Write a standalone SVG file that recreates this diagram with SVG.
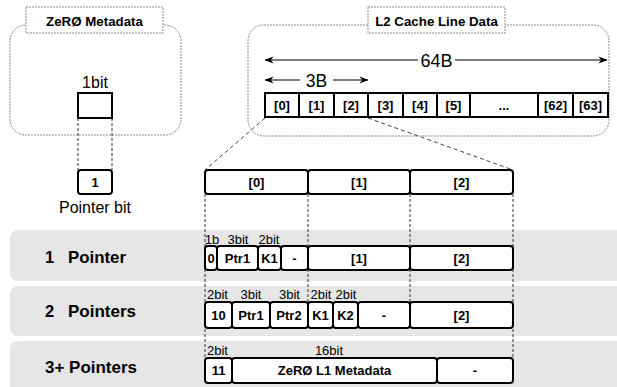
<svg xmlns="http://www.w3.org/2000/svg" width="617" height="387" viewBox="0 0 617 387">
<defs>
<marker id="arr" viewBox="0 0 10 10" refX="9.5" refY="5" markerWidth="9" markerHeight="9" markerUnits="userSpaceOnUse" orient="auto-start-reverse"><path d="M0,1 L10,5 L0,9 L3,5 z" fill="#000"/></marker>
</defs>
<style>
text{font-family:"Liberation Sans",Arial,sans-serif;text-anchor:middle;fill:#000}
.b{font-weight:bold;font-size:13px}
.ttl{font-weight:bold;font-size:13.3px}
.row{font-weight:bold;font-size:16.5px;text-anchor:start}
.sm{font-size:13px}
.box{fill:#fff;stroke:#000;stroke-width:2}
.cell{fill:#fff;stroke:#000;stroke-width:2}
.cont{fill:#fff;stroke:#8c8c8c;stroke-width:1;stroke-dasharray:2 1}
.band{fill:#e6e6e6}
.guide{stroke:#333;stroke-width:1;stroke-dasharray:3 2;fill:none}
.diag{stroke:#444;stroke-width:1;stroke-dasharray:4 3;fill:none}
.ar{stroke:#000;stroke-width:1.2;fill:none}
</style>

<g id="bands">
<rect class="band" x="10" y="230" width="620" height="51" rx="8"/>
<rect class="band" x="10" y="286" width="620" height="50" rx="8"/>
<rect class="band" x="10" y="341" width="620" height="60" rx="8"/>
</g>

<g id="zero-metadata">
<rect class="cont" x="10" y="25" width="171" height="110" rx="16"/>
<rect class="cont" x="26" y="7" width="137" height="26"/>
<text class="ttl" x="94.5" y="25.5">ZeRØ Metadata</text>
</g>

<g id="l2-cache">
<rect class="cont" x="248" y="25" width="361" height="111" rx="16"/>
<rect class="cont" x="368" y="7" width="137" height="26"/>
<text class="ttl" x="436.5" y="25.5">L2 Cache Line Data</text>
</g>

<g id="connectors">
<line class="guide" x1="78" y1="118" x2="78" y2="170"/>
<line class="guide" x1="112" y1="118" x2="112" y2="170"/>
<line class="diag" x1="265" y1="118" x2="205" y2="170"/>
<line class="diag" x1="368" y1="118" x2="513" y2="170"/>
<line class="guide" x1="205" y1="194" x2="205" y2="358"/>
<line class="guide" x1="308" y1="194" x2="308" y2="302"/>
<line class="guide" x1="410" y1="194" x2="410" y2="302"/>
<line class="guide" x1="513" y1="194" x2="513" y2="358"/>
<line class="ar" x1="265" y1="60" x2="418" y2="60" marker-start="url(#arr)"/>
<line class="ar" x1="455" y1="60" x2="607" y2="60" marker-end="url(#arr)"/>
<line class="ar" x1="265" y1="80" x2="300" y2="80" marker-start="url(#arr)"/>
<line class="ar" x1="333" y1="80" x2="368" y2="80" marker-end="url(#arr)"/>
</g>

<g id="size-labels">
<text x="436.5" y="66.5" style="font-size:18px">64B</text>
<text x="316.5" y="87" style="font-size:17.5px">3B</text>
</g>

<g id="one-bit">
<text x="95" y="88" style="font-size:16px">1bit</text>
<rect class="cell" x="78" y="93" width="34" height="25"/>
</g>

<g id="cache-cells">
<rect class="cell" x="265" y="93" width="34" height="24"/><text class="b" x="282" y="109.5">[0]</text>
<rect class="cell" x="299" y="93" width="35" height="24"/><text class="b" x="316.5" y="109.5">[1]</text>
<rect class="cell" x="334" y="93" width="34" height="24"/><text class="b" x="351" y="109.5">[2]</text>
<rect class="cell" x="368" y="93" width="35" height="24"/><text class="b" x="385.5" y="109.5">[3]</text>
<rect class="cell" x="403" y="93" width="34" height="24"/><text class="b" x="420" y="109.5">[4]</text>
<rect class="cell" x="437" y="93" width="33" height="24"/><text class="b" x="453.5" y="109.5">[5]</text>
<rect class="cell" x="470" y="93" width="68" height="24"/><text class="b" x="504" y="109.5">...</text>
<rect class="cell" x="538" y="93" width="35" height="24"/><text class="b" x="555.5" y="109.5">[62]</text>
<rect class="cell" x="573" y="93" width="35" height="24"/><text class="b" x="590.5" y="109.5">[63]</text>
</g>

<g id="pointer-bit">
<rect class="box" x="78" y="170" width="34" height="24" rx="3"/>
<text class="b" x="95" y="186.5">1</text>
<text x="95" y="213" style="font-size:16px">Pointer bit</text>
</g>

<g id="expanded">
<rect class="box" x="205" y="170" width="103" height="24" rx="3"/><text class="b" x="256.5" y="186.5">[0]</text>
<rect class="box" x="308" y="170" width="102" height="24" rx="3"/><text class="b" x="359" y="186.5">[1]</text>
<rect class="box" x="410" y="170" width="103" height="24" rx="3"/><text class="b" x="461.5" y="186.5">[2]</text>
</g>

<g id="row-1-pointer">
<text class="row" x="45" y="262.5">1</text>
<text class="row" x="68" y="262.5" textLength="58" lengthAdjust="spacingAndGlyphs">Pointer</text>
<text class="sm" x="212" y="244">1b</text>
<text class="sm" x="238" y="244">3bit</text>
<text class="sm" x="269" y="244">2bit</text>
<rect class="box" x="205" y="246" width="12" height="24" rx="3"/><text class="b" x="211" y="262.5">0</text>
<rect class="box" x="217" y="246" width="41" height="24" rx="3"/><text class="b" x="237.5" y="262.5">Ptr1</text>
<rect class="box" x="258" y="246" width="23" height="24" rx="3"/><text class="b" x="269.5" y="262.5">K1</text>
<rect class="box" x="281" y="246" width="27" height="24" rx="3"/><text class="b" x="294.5" y="262.5">-</text>
<rect class="box" x="308" y="246" width="102" height="24" rx="3"/><text class="b" x="359" y="262.5">[1]</text>
<rect class="box" x="410" y="246" width="103" height="24" rx="3"/><text class="b" x="461.5" y="262.5">[2]</text>
</g>

<g id="row-2-pointers">
<text class="row" x="45" y="317">2</text>
<text class="row" x="68" y="317" textLength="68" lengthAdjust="spacingAndGlyphs">Pointers</text>
<text class="sm" x="217.5" y="299">2bit</text>
<text class="sm" x="251" y="299">3bit</text>
<text class="sm" x="289.5" y="299">3bit</text>
<text class="sm" x="321" y="299">2bit</text>
<text class="sm" x="346" y="299">2bit</text>
<rect class="box" x="205" y="302" width="27" height="26" rx="3"/><text class="b" x="218.5" y="319.5">10</text>
<rect class="box" x="232" y="302" width="38" height="26" rx="3"/><text class="b" x="251" y="319.5">Ptr1</text>
<rect class="box" x="270" y="302" width="38" height="26" rx="3"/><text class="b" x="289" y="319.5">Ptr2</text>
<rect class="box" x="308" y="302" width="25" height="26" rx="3"/><text class="b" x="320.5" y="319.5">K1</text>
<rect class="box" x="333" y="302" width="25" height="26" rx="3"/><text class="b" x="345.5" y="319.5">K2</text>
<rect class="box" x="358" y="302" width="52" height="26" rx="3"/><text class="b" x="384" y="319.5">-</text>
<rect class="box" x="410" y="302" width="103" height="26" rx="3"/><text class="b" x="461.5" y="319.5">[2]</text>
</g>

<g id="row-3-pointers">
<text class="row" x="45" y="373" textLength="92" lengthAdjust="spacingAndGlyphs">3+ Pointers</text>
<text class="sm" x="217.5" y="355">2bit</text>
<text class="sm" x="329" y="355">16bit</text>
<rect class="box" x="205" y="358" width="27" height="25" rx="3"/><text class="b" x="218.5" y="375">11</text>
<rect class="box" x="232" y="358" width="205" height="25" rx="3"/><text class="b" x="334.5" y="375">ZeRØ L1 Metadata</text>
<rect class="box" x="437" y="358" width="76" height="25" rx="3"/><text class="b" x="475" y="375">-</text>
</g>
</svg>
